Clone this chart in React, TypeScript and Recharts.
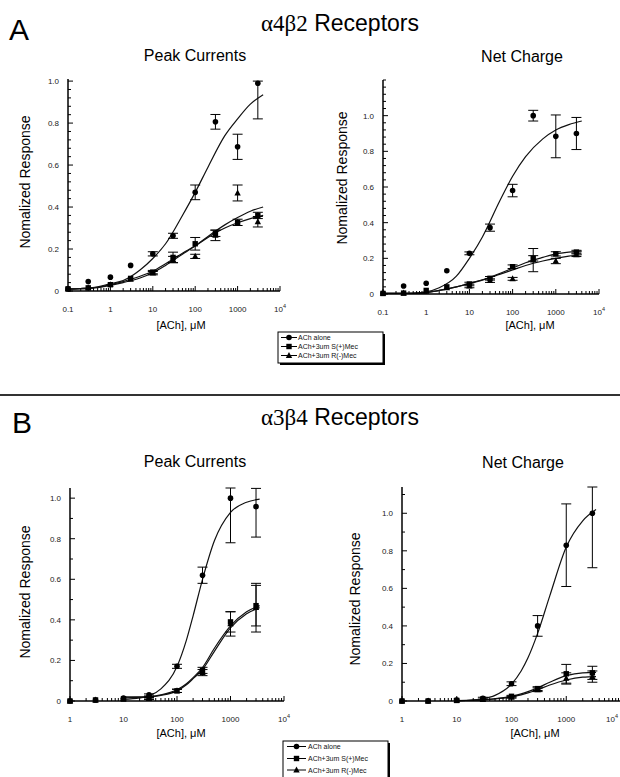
import React from 'react';
import { ComposedChart, Line, Scatter, XAxis, YAxis, ErrorBar } from 'recharts';

const SANS = '"Liberation Sans", Arial, Helvetica, sans-serif';
const SERIF = '"Liberation Serif", "Times New Roman", serif';

// doses, µM
const dosesA = [0.1, 0.3, 1, 3, 10, 30, 100, 300, 1000, 3000];
const dosesB = [1, 3, 10, 30, 100, 300, 1000, 3000];
const fitDosesA = [0.1, 0.2, 0.5, 1, 2, 5, 10, 20, 50, 100, 200, 500, 1000, 2000, 4000];
const fitDosesB = [10, 20, 30, 50, 100, 150, 200, 300, 500, 1000, 2000, 3500];

// A — α4β2, peak currents
const aPeakAlone = [0.01, 0.045, 0.066, 0.122, 0.177, 0.263, 0.47, 0.806, 0.687, 0.99];
const aPeakAloneErr = [0, 0, 0, 0, 0.01, 0.012, 0.035, 0.035, 0.06, [0.17, 0.01]];
const aPeakS = [0.01, 0.015, 0.03, 0.06, 0.09, 0.16, 0.225, 0.275, 0.327, 0.36];
const aPeakSErr = [0, 0, 0, 0, 0.008, 0.025, 0.03, 0.015, 0.015, 0.015];
const aPeakR = [0.01, 0.015, 0.03, 0.055, 0.085, 0.15, 0.165, 0.265, 0.467, 0.33];
const aPeakRErr = [0, 0, 0, 0, 0.008, 0.015, 0.01, 0.025, 0.038, 0.025];
const aPeakAloneFit = [0.01, 0.012, 0.02, 0.035, 0.05, 0.1, 0.155, 0.225, 0.36, 0.47, 0.59, 0.74, 0.82, 0.89, 0.935];
const aPeakSFit = [0.01, 0.012, 0.018, 0.03, 0.045, 0.07, 0.095, 0.13, 0.18, 0.215, 0.255, 0.3, 0.325, 0.345, 0.36];
const aPeakRFit = [0.008, 0.01, 0.016, 0.027, 0.04, 0.062, 0.087, 0.122, 0.175, 0.215, 0.26, 0.315, 0.35, 0.38, 0.4];

// A — α4β2, net charge
const aNetAlone = [0.004, 0.045, 0.06, 0.13, 0.228, 0.372, 0.58, 1.0, 0.884, 0.9];
const aNetAloneErr = [0, 0, 0, 0, 0.008, 0.02, 0.035, 0.03, 0.12, 0.09];
const aNetS = [0.003, 0.005, 0.02, 0.04, 0.056, 0.088, 0.153, 0.2, 0.225, 0.235];
const aNetSErr = [0, 0, 0, 0, 0.01, 0.01, 0.01, 0.015, 0.012, 0.01];
const aNetR = [0.003, 0.005, 0.015, 0.035, 0.045, 0.075, 0.085, 0.19, 0.185, 0.22];
const aNetRErr = [0, 0, 0, 0, 0.01, 0.01, 0.008, 0.065, 0.015, 0.01];
const aNetAloneFit = [0.003, 0.003, 0.005, 0.012, 0.035, 0.1, 0.2, 0.32, 0.52, 0.66, 0.77, 0.87, 0.92, 0.95, 0.97];
const aNetSFit = [0.003, 0.003, 0.004, 0.008, 0.02, 0.04, 0.06, 0.08, 0.115, 0.145, 0.175, 0.205, 0.225, 0.235, 0.24];
const aNetRFit = [0.003, 0.003, 0.004, 0.008, 0.02, 0.04, 0.058, 0.078, 0.11, 0.135, 0.16, 0.185, 0.2, 0.212, 0.22];

// B — α3β4, peak currents
const bPeakAlone = [0, 0.005, 0.015, 0.03, 0.171, 0.62, 1.0, 0.958];
const bPeakAloneErr = [0, 0, 0, 0.005, 0.01, 0.04, [0.22, 0.05], [0.15, 0.09]];
const bPeakS = [0, 0.005, 0.01, 0.015, 0.05, 0.151, 0.39, 0.47];
const bPeakSErr = [0, 0, 0, 0.005, 0.008, 0.015, 0.05, 0.1];
const bPeakR = [0, 0.005, 0.01, 0.012, 0.05, 0.14, 0.38, 0.46];
const bPeakRErr = [0, 0, 0, 0.005, 0.008, 0.015, 0.06, 0.12];
const bPeakAloneFit = [0.008, 0.015, 0.025, 0.06, 0.17, 0.3, 0.42, 0.6, 0.79, 0.93, 0.98, 0.995];
const bPeakSFit = [0.02, 0.02, 0.022, 0.03, 0.055, 0.085, 0.115, 0.165, 0.26, 0.37, 0.44, 0.47];
const bPeakRFit = [0.015, 0.018, 0.02, 0.028, 0.05, 0.08, 0.11, 0.155, 0.245, 0.36, 0.43, 0.46];

// B — α3β4, net charge
const bNetAlone = [0, 0, 0.005, 0.015, 0.092, 0.4, 0.83, 1.0];
const bNetAloneErr = [0, 0, 0, 0.005, 0.01, 0.055, 0.22, [0.29, 0.14]];
const bNetS = [0, 0, 0.003, 0.01, 0.025, 0.066, 0.145, 0.15];
const bNetSErr = [0, 0, 0, 0, 0.005, 0.01, 0.05, 0.035];
const bNetR = [0, 0, 0.003, 0.008, 0.02, 0.06, 0.12, 0.13];
const bNetRErr = [0, 0, 0, 0, 0.005, 0.01, 0.03, 0.03];
const bNetAloneFit = [0.002, 0.006, 0.012, 0.03, 0.09, 0.16, 0.23, 0.36, 0.56, 0.82, 0.96, 1.02];
const bNetSFit = [0.002, 0.004, 0.006, 0.012, 0.025, 0.038, 0.05, 0.07, 0.1, 0.135, 0.15, 0.152];
const bNetRFit = [0.002, 0.004, 0.006, 0.011, 0.022, 0.033, 0.043, 0.06, 0.085, 0.112, 0.127, 0.13];

// axis ticks
const xMajorA = [0.1, 1, 10, 100, 1000, 10000];
const xMajorB = [1, 10, 100, 1000, 10000];
const yMajor = [0, 0.2, 0.4, 0.6, 0.8, 1.0];

const legendNames = ['ACh alone', 'ACh+3um S(+)Mec', 'ACh+3um R(-)Mec'];
const kinds = ['circle', 'square', 'triangle'];

const PAGE_W = 620;

type Err = number | number[];
const points = (xs: number[], ys: number[], es: Err[]) => xs.map((x, i) => ({ x, y: ys[i], e: es[i] }));
const curve = (xs: number[], ys: number[]) => xs.map((x, i) => ({ x, y: ys[i] }));

function minorLog(majors: number[]) {
  return majors.slice(0, -1).flatMap((d) => [2, 3, 4, 5, 6, 7, 8, 9].map((k) => k * d));
}
function linTicks(top: number, step: number) {
  const out: number[] = [];
  for (let i = 0; i * step <= top + 1e-9; i++) out.push(Math.round(i * step * 1000) / 1000);
  return out;
}

function Marker({ cx, cy, kind }: { cx: number; cy: number; kind: string }) {
  if (cx == null || cy == null) return null;
  if (kind === 'circle') return <circle cx={cx} cy={cy} r={2.8} fill="#000" />;
  if (kind === 'square') return <rect x={cx - 2.7} y={cy - 2.7} width={5.4} height={5.4} fill="#000" />;
  return <polygon points={`${cx},${cy - 3.5} ${cx - 3.2},${cy + 2.4} ${cx + 3.2},${cy + 2.4}`} fill="#000" />;
}

function XTick(props: any) {
  const { x, y, payload, majors, pageLeft } = props;
  const v = payload.value;
  const major = majors.some((m: number) => Math.abs(m - v) < 1e-9);
  // the last label of the lower right panel sits on the page edge: keep it inside
  const nearEdge = x + pageLeft > PAGE_W - 12;
  return (
    <g>
      <line x1={x} x2={x} y1={y} y2={y - (major ? 5 : 3)} stroke="#000" strokeWidth={1} />
      {major && (
        <text
          x={nearEdge ? PAGE_W - 2 - pageLeft : x} y={y + 21}
          textAnchor={nearEdge ? 'end' : 'middle'}
          fontSize={8} fontFamily={SANS} fill="#222"
        >
          {v === 10000 ? (
            <>
              <tspan>10</tspan>
              <tspan dy={-4} fontSize={5.5}>4</tspan>
            </>
          ) : (
            String(v)
          )}
        </text>
      )}
    </g>
  );
}

function YTick(props: any) {
  const { x, y, payload } = props;
  const v = payload.value;
  const major = yMajor.some((m) => Math.abs(m - v) < 1e-6);
  return (
    <g>
      <line x1={x} x2={x + (major ? 5 : 3)} y1={y} y2={y} stroke="#000" strokeWidth={1} />
      {major && (
        <text x={x - 9} y={y + 3} textAnchor="end" fontSize={8} fontFamily={SANS} fill="#222">
          {v === 0 ? '0' : v.toFixed(1)}
        </text>
      )}
    </g>
  );
}

interface PanelProps {
  plot: { left: number; top: number; right: number; bottom: number };
  xMajor: number[];
  yTop: number;
  yStep: number;
  doses: number[];
  fitDoses: number[];
  values: number[][];
  errs: Err[][];
  fits: number[][];
}

function Panel({ plot, xMajor, yTop, yStep, doses, fitDoses, values, errs, fits }: PanelProps) {
  const padL = 60, padR = 12, padT = 10, padB = 30;
  const w = plot.right - plot.left + padL + padR;
  const h = plot.bottom - plot.top + padT + padB;
  const pageLeft = plot.left - padL;
  const xTicks = [...xMajor, ...minorLog(xMajor)].sort((a, b) => a - b);
  return (
    <div style={{ position: 'absolute', left: pageLeft, top: plot.top - padT }}>
      <ComposedChart width={w} height={h} margin={{ top: padT, right: padR, bottom: 0, left: 0 }}>
        <XAxis
          type="number" dataKey="x" scale="log"
          domain={[xMajor[0], xMajor[xMajor.length - 1]]}
          ticks={xTicks} interval={0}
          tick={(p: any) => <XTick {...p} majors={xMajor} pageLeft={pageLeft} />}
          tickSize={0} tickMargin={0} tickLine={false} height={padB}
          axisLine={{ stroke: '#000', strokeWidth: 1.5 }}
        />
        <YAxis
          type="number" dataKey="y" domain={[0, yTop]}
          ticks={linTicks(yTop, yStep)} interval={0}
          tick={(p: any) => <YTick {...p} />}
          tickSize={0} tickMargin={0} tickLine={false} width={padL}
          axisLine={{ stroke: '#000', strokeWidth: 1.5 }}
        />
        {fits.map((f, i) => (
          <Line
            key={`l${i}`} data={curve(fitDoses, f)} dataKey="y" type="monotone"
            stroke="#111" strokeWidth={1.2} dot={false} activeDot={false} isAnimationActive={false}
          />
        ))}
        {values.map((v, i) => (
          <Scatter
            key={`s${i}`} data={points(doses, v, errs[i])} dataKey="y" isAnimationActive={false}
            shape={(p: any) => <Marker cx={p.cx} cy={p.cy} kind={kinds[i]} />}
          >
            <ErrorBar dataKey="e" direction="y" width={5} stroke="#000" strokeWidth={1} />
          </Scatter>
        ))}
      </ComposedChart>
    </div>
  );
}

function LegendBox({ x, y, w, h, rowY, lineX, textX }: { x: number; y: number; w: number; h: number; rowY: number[]; lineX: number[]; textX: number }) {
  return (
    <g>
      <rect x={x + 2} y={y + 2} width={w} height={h} fill="#000" />
      <rect x={x} y={y} width={w} height={h} fill="#fff" stroke="#000" strokeWidth={1} />
      {legendNames.map((name, i) => (
        <g key={name}>
          <line x1={lineX[0]} x2={lineX[1]} y1={rowY[i]} y2={rowY[i]} stroke="#000" strokeWidth={1} />
          <Marker cx={(lineX[0] + lineX[1]) / 2} cy={rowY[i]} kind={kinds[i]} />
          <text x={textX} y={rowY[i] + 2.5} fontSize={7} fontFamily={SANS} fill="#111">{name}</text>
        </g>
      ))}
    </g>
  );
}

export default function App() {
  return (
    <div style={{ position: 'absolute', left: 0, top: 0, width: PAGE_W, height: 777, overflow: 'hidden', background: '#fff' }}>
      <Panel
        plot={{ left: 68, top: 79, right: 280, bottom: 291 }} xMajor={xMajorA} yTop={1.01} yStep={0.04}
        doses={dosesA} fitDoses={fitDosesA}
        values={[aPeakAlone, aPeakS, aPeakR]} errs={[aPeakAloneErr, aPeakSErr, aPeakRErr]}
        fits={[aPeakAloneFit, aPeakSFit, aPeakRFit]}
      />
      <Panel
        plot={{ left: 383, top: 80, right: 599, bottom: 294 }} xMajor={xMajorA} yTop={1.2} yStep={0.04}
        doses={dosesA} fitDoses={fitDosesA}
        values={[aNetAlone, aNetS, aNetR]} errs={[aNetAloneErr, aNetSErr, aNetRErr]}
        fits={[aNetAloneFit, aNetSFit, aNetRFit]}
      />
      <Panel
        plot={{ left: 70, top: 488, right: 284, bottom: 701 }} xMajor={xMajorB} yTop={1.05} yStep={0.1}
        doses={dosesB} fitDoses={fitDosesB}
        values={[bPeakAlone, bPeakS, bPeakR]} errs={[bPeakAloneErr, bPeakSErr, bPeakRErr]}
        fits={[bPeakAloneFit, bPeakSFit, bPeakRFit]}
      />
      <Panel
        plot={{ left: 402, top: 487, right: 621, bottom: 701 }} xMajor={xMajorB} yTop={1.14} yStep={0.1}
        doses={dosesB} fitDoses={fitDosesB}
        values={[bNetAlone, bNetS, bNetR]} errs={[bNetAloneErr, bNetSErr, bNetRErr]}
        fits={[bNetAloneFit, bNetSFit, bNetRFit]}
      />
      <svg width={PAGE_W} height={777} style={{ position: 'absolute', left: 0, top: 0, pointerEvents: 'none' }}>
        <text x={9} y={40} fontSize={30} fontFamily={SANS} fill="#000">A</text>
        <text x={12} y={433} fontSize={30} fontFamily={SANS} fill="#000">B</text>
        <text x={340} y={31} textAnchor="middle" fontSize={23} fill="#000">
          <tspan fontFamily={SERIF}>α4β2</tspan>
          <tspan fontFamily={SANS}> Receptors</tspan>
        </text>
        <text x={340} y={425} textAnchor="middle" fontSize={23} fill="#000">
          <tspan fontFamily={SERIF}>α3β4</tspan>
          <tspan fontFamily={SANS}> Receptors</tspan>
        </text>
        <text x={195} y={61} textAnchor="middle" fontSize={16} fontFamily={SANS}>Peak Currents</text>
        <text x={522} y={62} textAnchor="middle" fontSize={16} fontFamily={SANS}>Net Charge</text>
        <text x={195} y={467} textAnchor="middle" fontSize={16} fontFamily={SANS}>Peak Currents</text>
        <text x={523} y={468} textAnchor="middle" fontSize={16} fontFamily={SANS}>Net Charge</text>
        <text transform="translate(30,182) rotate(-90)" textAnchor="middle" fontSize={14} fontFamily={SANS}>Nomalized Response</text>
        <text transform="translate(347,178) rotate(-90)" textAnchor="middle" fontSize={14} fontFamily={SANS}>Nomalized Response</text>
        <text transform="translate(30,592) rotate(-90)" textAnchor="middle" fontSize={14} fontFamily={SANS}>Nomalized Response</text>
        <text transform="translate(360,599) rotate(-90)" textAnchor="middle" fontSize={14} fontFamily={SANS}>Nomalized Response</text>
        <text x={181} y={329} textAnchor="middle" fontSize={11} fontFamily={SANS}>[ACh], μM</text>
        <text x={530} y={329} textAnchor="middle" fontSize={11} fontFamily={SANS}>[ACh], μM</text>
        <text x={181} y={737} textAnchor="middle" fontSize={11} fontFamily={SANS}>[ACh], μM</text>
        <text x={535} y={737} textAnchor="middle" fontSize={11} fontFamily={SANS}>[ACh], μM</text>
        <line x1={0} x2={PAGE_W} y1={395} y2={395} stroke="#333" strokeWidth={2} />
        <LegendBox x={278} y={332} w={105} h={31} rowY={[337.5, 346.5, 355.5]} lineX={[281, 297]} textX={298} />
        <LegendBox x={283} y={741} w={105} h={40} rowY={[746.5, 758.5, 770]} lineX={[287, 306]} textX={308} />
      </svg>
    </div>
  );
}
